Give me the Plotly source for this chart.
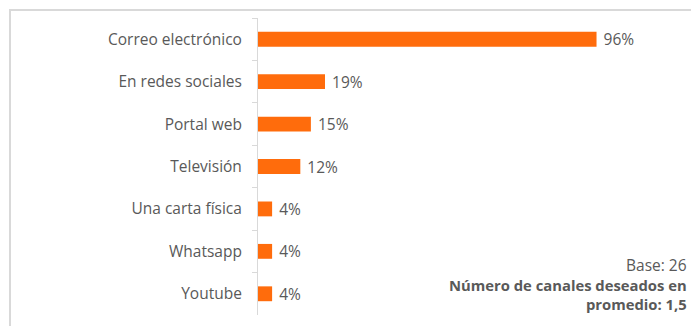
import plotly.graph_objects as go

# Channels through which respondents want to be contacted (% of base)
canales = ["Correo electrónico", "En redes sociales", "Portal web", "Televisión",
           "Una carta física", "Whatsapp", "Youtube"]
porcentajes = [96, 19, 15, 12, 4, 4, 4]

nota_base = "Base: 26"
nota_promedio = "<b>Número de canales deseados en<br>promedio: 1,5</b>"

NARANJA = "#FF6C0C"
GRIS_TEXTO = "#595959"
FUENTE = "'Open Sans', Lato, sans-serif"

fig = go.Figure(
    go.Bar(
        x=porcentajes,
        y=canales,
        orientation="h",
        marker=dict(color=NARANJA, line=dict(width=0)),
        width=0.35,
        text=[f" {v}%" for v in porcentajes],
        textposition="outside",
        constraintext="none",
        textfont=dict(family=FUENTE, size=15.5, color=GRIS_TEXTO),
        cliponaxis=False,
        hoverinfo="skip",
    )
)

W, H = 691, 326
L, R, T, B = 258, 31, 18, 11

fig.update_layout(
    width=W,
    height=H,
    margin=dict(l=L, r=R, t=T, b=B, pad=0),
    paper_bgcolor="white",
    plot_bgcolor="white",
    showlegend=False,
    font=dict(family=FUENTE, size=15.5, color=GRIS_TEXTO),
    xaxis=dict(range=[0, 114], visible=False, fixedrange=True),
    yaxis=dict(
        autorange="reversed",
        showline=True,
        linecolor="#D9D9D9",
        linewidth=1,
        ticks="outside",
        tickson="boundaries",
        ticklen=5,
        tickcolor="#D9D9D9",
        tickfont=dict(family=FUENTE, size=15.5, color=GRIS_TEXTO),
        ticklabelstandoff=12,
        showgrid=False,
        zeroline=False,
        fixedrange=True,
    ),
)

# light frame around the chart area (top and left edges visible)
pw = W - L - R
ph = H - T - B
fig.add_shape(
    type="rect", xref="paper", yref="paper",
    x0=(10 - L) / pw, x1=(W + 5 - L) / pw,
    y0=-(B + 5) / ph, y1=1 + (T - 10) / ph,
    line=dict(color="#D9D9D9", width=2),
    fillcolor="rgba(0,0,0,0)",
    layer="below",
)

fig.add_annotation(
    xref="paper", yref="paper",
    x=(689 - L) / pw, y=1 - (265 - T) / ph,
    xanchor="right", yanchor="middle",
    text=nota_base, showarrow=False, align="right",
    font=dict(family=FUENTE, size=15.5, color=GRIS_TEXTO),
)
fig.add_annotation(
    xref="paper", yref="paper",
    x=(689 - L) / pw, y=1 - (294 - T) / ph,
    xanchor="right", yanchor="middle",
    text=nota_promedio, showarrow=False, align="right",
    font=dict(family=FUENTE, size=14.8, color=GRIS_TEXTO),
)

fig.write_html("out.html", config={"displayModeBar": False})
